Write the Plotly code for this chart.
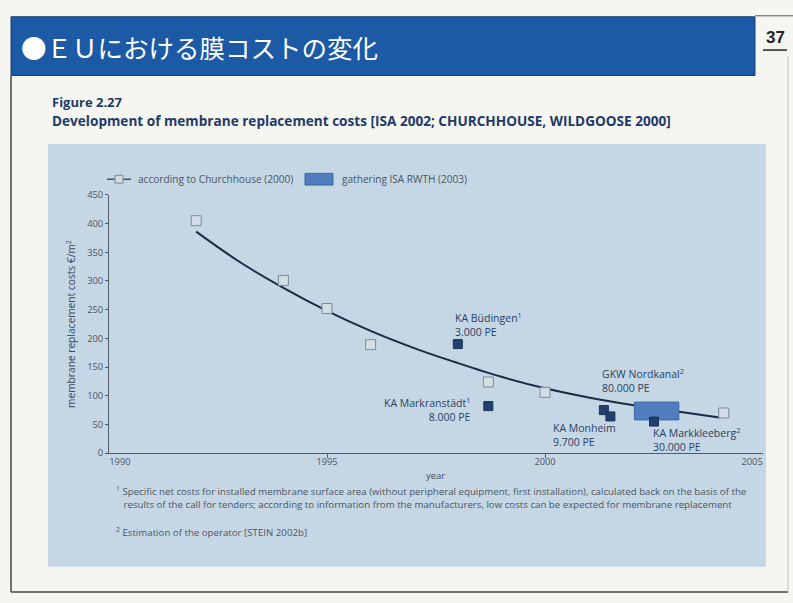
import plotly.graph_objects as go

W, H = 793, 603

# ---------------- data ----------------
church_years = [1992.0, 1994.0, 1995.0, 1996.0, 1998.7, 2000.0, 2004.1]
church_costs = [405, 301, 252, 189, 124, 106, 70]

trend_years = [1992, 1993, 1994, 1995, 1996, 1997, 1998, 1999, 2000, 2001, 2002, 2003, 2004]
trend_costs = [386, 333, 288, 248, 213, 183, 157, 133, 113, 97, 84, 73, 62]

isa_years = [1998.0, 1998.7, 2001.35, 2001.5, 2002.5]
isa_costs = [190, 82, 75, 64, 55]

gkw_years = [2002.05, 2003.07]
gkw_costs = [58, 89]

label_texts = ["KA Büdingen<sup>1</sup><br>3.000 PE",
               "KA Markranstädt<sup>1</sup><br>8.000 PE",
               "KA Monheim<br>9.700 PE",
               "GKW Nordkanal<sup>2</sup><br>80.000 PE",
               "KA Markkleeberg<sup>2</sup><br>30.000 PE"]
label_x = [1997.89, 1998.35, 2000.14, 2001.26, 2002.43]
label_y = [224, 76, 31, 127, 24]
label_anchor = ["left", "right", "left", "left", "left"]

x_tick_labels = ["1990", "1995", "2000", "2005"]
x_tick_pos = [1990.25, 1995, 2000, 2004.75]
x_tick_marks = [1995, 2000]
y_ticks = [0, 50, 100, 150, 200, 250, 300, 350, 400, 450]

legend_labels = ["according to Churchhouse (2000)", "gathering ISA RWTH (2003)"]

# ---------------- helpers ----------------
def X(px):
    return px / W

def Y(py):
    return 1 - py / H

AX = "#4f5c69"
NAVY = "#1e3a68"
TXT = "#4a5663"
FONT = "Open Sans, sans-serif"

fig = go.Figure()

# trend curve
fig.add_trace(go.Scatter(x=trend_years, y=trend_costs, mode="lines",
                         line=dict(color="#1c2a44", width=2, shape="spline"),
                         showlegend=False, hoverinfo="skip"))
# GKW Nordkanal rectangle
fig.add_trace(go.Scatter(x=[gkw_years[0], gkw_years[1], gkw_years[1], gkw_years[0], gkw_years[0]],
                         y=[gkw_costs[0], gkw_costs[0], gkw_costs[1], gkw_costs[1], gkw_costs[0]],
                         mode="lines", fill="toself", fillcolor="#4f7dbd",
                         line=dict(color="#3d69a6", width=1), showlegend=False))
# Churchhouse markers
fig.add_trace(go.Scatter(x=church_years, y=church_costs, mode="markers",
                         marker=dict(symbol="square", size=10, color="#d3dde4",
                                     line=dict(color="#7d8a97", width=1)),
                         showlegend=False))
# ISA plants
fig.add_trace(go.Scatter(x=isa_years, y=isa_costs, mode="markers",
                         marker=dict(symbol="square", size=9, color="#223f6e",
                                     line=dict(color="#1a3257", width=1)),
                         showlegend=False))

annotations = []
for t, lx, ly, an in zip(label_texts, label_x, label_y, label_anchor):
    annotations.append(dict(x=lx, y=ly, xref="x", yref="y", text=t, showarrow=False,
                            xanchor=an, yanchor="middle", align=an,
                            font=dict(family=FONT, size=10.5, color="#2a3f62")))

# title
annotations.append(dict(x=X(19), y=Y(40), xref="paper", yref="paper", xanchor="left", yanchor="middle",
                        text="●ＥＵにおける膜コストの変化", showarrow=False,
                        font=dict(family="Noto Sans CJK JP", size=25.5, color="white")))
annotations.append(dict(x=X(775), y=Y(31), xref="paper", yref="paper", xanchor="center", yanchor="middle",
                        text="<b>37</b>", showarrow=False,
                        font=dict(family="Liberation Sans", size=17, color="#222")))
# caption
annotations.append(dict(x=X(50), y=Y(97), xref="paper", yref="paper", xanchor="left", yanchor="middle",
                        text="<b>Figure 2.27</b>", showarrow=False,
                        font=dict(family=FONT, size=13, color=NAVY)))
annotations.append(dict(x=X(50), y=Y(116), xref="paper", yref="paper", xanchor="left", yanchor="middle",
                        text="<b>Development of membrane replacement costs [ISA 2002; CHURCHHOUSE, WILDGOOSE 2000]</b>",
                        showarrow=False, font=dict(family=FONT, size=13.6, color=NAVY)))
# legend texts
annotations.append(dict(x=X(136), y=Y(176), xref="paper", yref="paper", xanchor="left", yanchor="middle",
                        text=legend_labels[0], showarrow=False,
                        font=dict(family=FONT, size=10.1, color=TXT)))
annotations.append(dict(x=X(340), y=Y(176), xref="paper", yref="paper", xanchor="left", yanchor="middle",
                        text=legend_labels[1], showarrow=False,
                        font=dict(family=FONT, size=10.1, color=TXT)))
# axis titles
annotations.append(dict(x=X(70), y=Y(324), xref="paper", yref="paper", xanchor="center", yanchor="middle",
                        text="membrane replacement costs €/m<sup>2</sup>", textangle=-90, showarrow=False,
                        font=dict(family=FONT, size=10.2, color="#3f4c5a")))
annotations.append(dict(x=X(435), y=Y(479), xref="paper", yref="paper", xanchor="center", yanchor="middle",
                        text="year", showarrow=False,
                        font=dict(family=FONT, size=9.5, color="#3f4c5a")))
# footnotes
annotations.append(dict(x=X(114), y=Y(501), xref="paper", yref="paper", xanchor="left", yanchor="middle",
                        align="left", showarrow=False,
                        text="<sup>1</sup> Specific net costs for installed membrane surface area (without peripheral equipment, first installation), calculated back on the basis of the<br>"
                             "   results of the call for tenders; according to information from the manufacturers, low costs can be expected for membrane replacement",
                        font=dict(family=FONT, size=9.7, color=TXT)))
annotations.append(dict(x=X(114), y=Y(537), xref="paper", yref="paper", xanchor="left", yanchor="middle",
                        align="left", showarrow=False,
                        text="<sup>2</sup> Estimation of the operator [STEIN 2002b]",
                        font=dict(family=FONT, size=9.7, color=TXT)))

shapes = [
    # chart panel
    dict(type="rect", xref="paper", yref="paper", x0=X(48), x1=X(766), y0=Y(572), y1=Y(140),
         fillcolor="#c5d7e5", line=dict(width=0), layer="below"),
    # title bar
    dict(type="rect", xref="paper", yref="paper", x0=X(11), x1=X(755), y0=Y(70), y1=Y(10),
         fillcolor="#1c5aa5", line=dict(color="#173f72", width=1), layer="below"),
    # slide borders
    dict(type="line", xref="paper", yref="paper", x0=X(755), x1=X(793), y0=Y(9), y1=Y(9),
         line=dict(color="#555", width=1)),
    dict(type="line", xref="paper", yref="paper", x0=X(11), x1=X(11), y0=Y(70), y1=Y(598),
         line=dict(color="#444", width=1.5)),
    dict(type="line", xref="paper", yref="paper", x0=X(11), x1=X(788), y0=Y(598), y1=Y(598),
         line=dict(color="#444", width=1.5)),
    dict(type="line", xref="paper", yref="paper", x0=X(788), x1=X(788), y0=Y(50), y1=Y(598),
         line=dict(color="#c0c0c0", width=1)),
    # underline of page number
    dict(type="line", xref="paper", yref="paper", x0=X(763), x1=X(787), y0=Y(44), y1=Y(44),
         line=dict(color="#222", width=1.5)),
    # legend symbols
    dict(type="line", xref="paper", yref="paper", x0=X(107), x1=X(131), y0=Y(176), y1=Y(176),
         line=dict(color=TXT, width=1.5)),
    dict(type="rect", xref="paper", yref="paper", x0=X(115), x1=X(123), y0=Y(180), y1=Y(172),
         fillcolor="#d3dde4", line=dict(color="#7d8a97", width=1)),
    dict(type="rect", xref="paper", yref="paper", x0=X(305), x1=X(333), y0=Y(182), y1=Y(170),
         fillcolor="#4f7dbd", line=dict(color="#3d69a6", width=1)),
]

fig.update_layout(
    width=W, height=H,
    margin=dict(l=0, r=0, t=0, b=0, pad=0),
    paper_bgcolor="#f6f6f1",
    plot_bgcolor="rgba(0,0,0,0)",
    showlegend=False,
    annotations=annotations,
    shapes=shapes,
    xaxis=dict(domain=[X(109), X(763)], range=[1990, 2005],
               tickvals=x_tick_pos, ticktext=x_tick_labels, ticks="",
               minor=dict(tickvals=x_tick_marks, ticks="outside", ticklen=4, tickcolor=AX),
               showline=True, linecolor=AX, linewidth=1,
               showgrid=False, zeroline=False,
               tickfont=dict(family=FONT, size=9.3, color=TXT)),
    yaxis=dict(domain=[Y(456), Y(192)], range=[0, 450], tickvals=y_ticks,
               showline=True, linecolor=AX, linewidth=1, ticks="outside", ticklen=3,
               tickcolor=AX, showgrid=False, zeroline=False,
               tickfont=dict(family=FONT, size=9.3, color=TXT)),
)

fig.write_html("out.html", config={"displayModeBar": False},
               post_script="document.body.style.margin='0';document.body.style.overflow='hidden';")
